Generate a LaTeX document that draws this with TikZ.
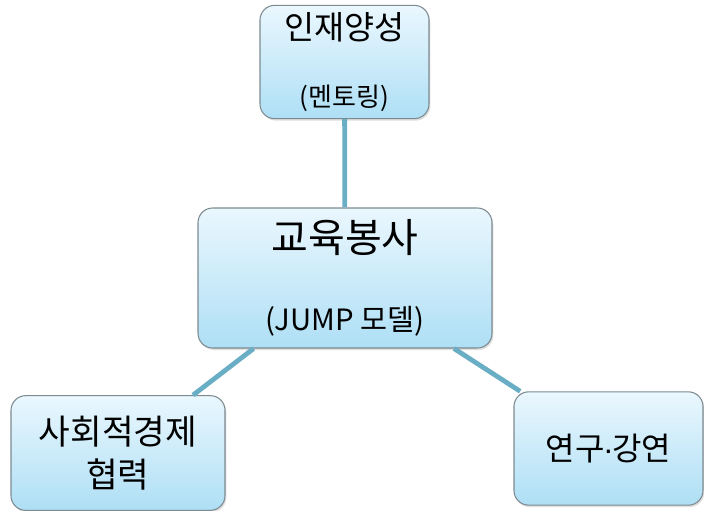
\documentclass[tikz,border=0pt]{standalone}
\usepackage{fontspec}
\setmainfont{Noto Sans CJK KR}
\newfontfamily\latinf{Liberation Sans}
\usepackage{tikz}
\usetikzlibrary{shadows}

\definecolor{boxtop}{HTML}{EAF7FE}
\definecolor{boxbot}{HTML}{AEDFF5}
\definecolor{boxline}{HTML}{7D8A90}
\definecolor{linkblue}{HTML}{6AAEC6}

\begin{document}
\begin{tikzpicture}
[x=0.75pt,y=-0.75pt
,bx/.style={rectangle,rounded corners=11pt,draw=boxline,line width=0.8pt
  ,top color=boxtop,bottom color=boxbot,inner sep=0pt,align=center
  ,drop shadow={opacity=0.25,shadow xshift=1pt,shadow yshift=-1.5pt}}
,hub/.style={bx,minimum width=220.5pt,minimum height=105pt}
,leaf/.style={bx,minimum width=158pt,minimum height=85pt}
,lk/.style={draw=linkblue,line width=3.6pt}]
\useasboundingbox (0,0) rectangle (704,511);
% links first, boxes on top
\node[leaf,minimum width=126.75pt,font=\fontsize{24.5}{50}\selectfont] (mentor) at (344.5,62)
  {인재양성\\{\fontsize{19.5}{50}\selectfont (멘토링)}};
\node[hub,font=\fontsize{30}{58.5}\selectfont] (edu) at (345,278)
  {교육봉사\\{\fontsize{22}{58.5}\selectfont (JUMP 모델)}};
\node[leaf,minimum width=160.5pt,minimum height=86pt,font=\fontsize{25.8}{32.5}\selectfont] (social) at (118,453)
  {사회적경제\\협력};
\node[leaf,minimum width=141.75pt,font=\fontsize{24}{30}\selectfont] (lecture) at (608.5,448.5)
  {연구{\latinf\kern-1pt·\kern-1pt}강연};
\draw[lk] (mentor) -- (edu);
\draw[lk] (edu) -- (social);
\draw[lk] (edu) -- (lecture);
\end{tikzpicture}
\end{document}
